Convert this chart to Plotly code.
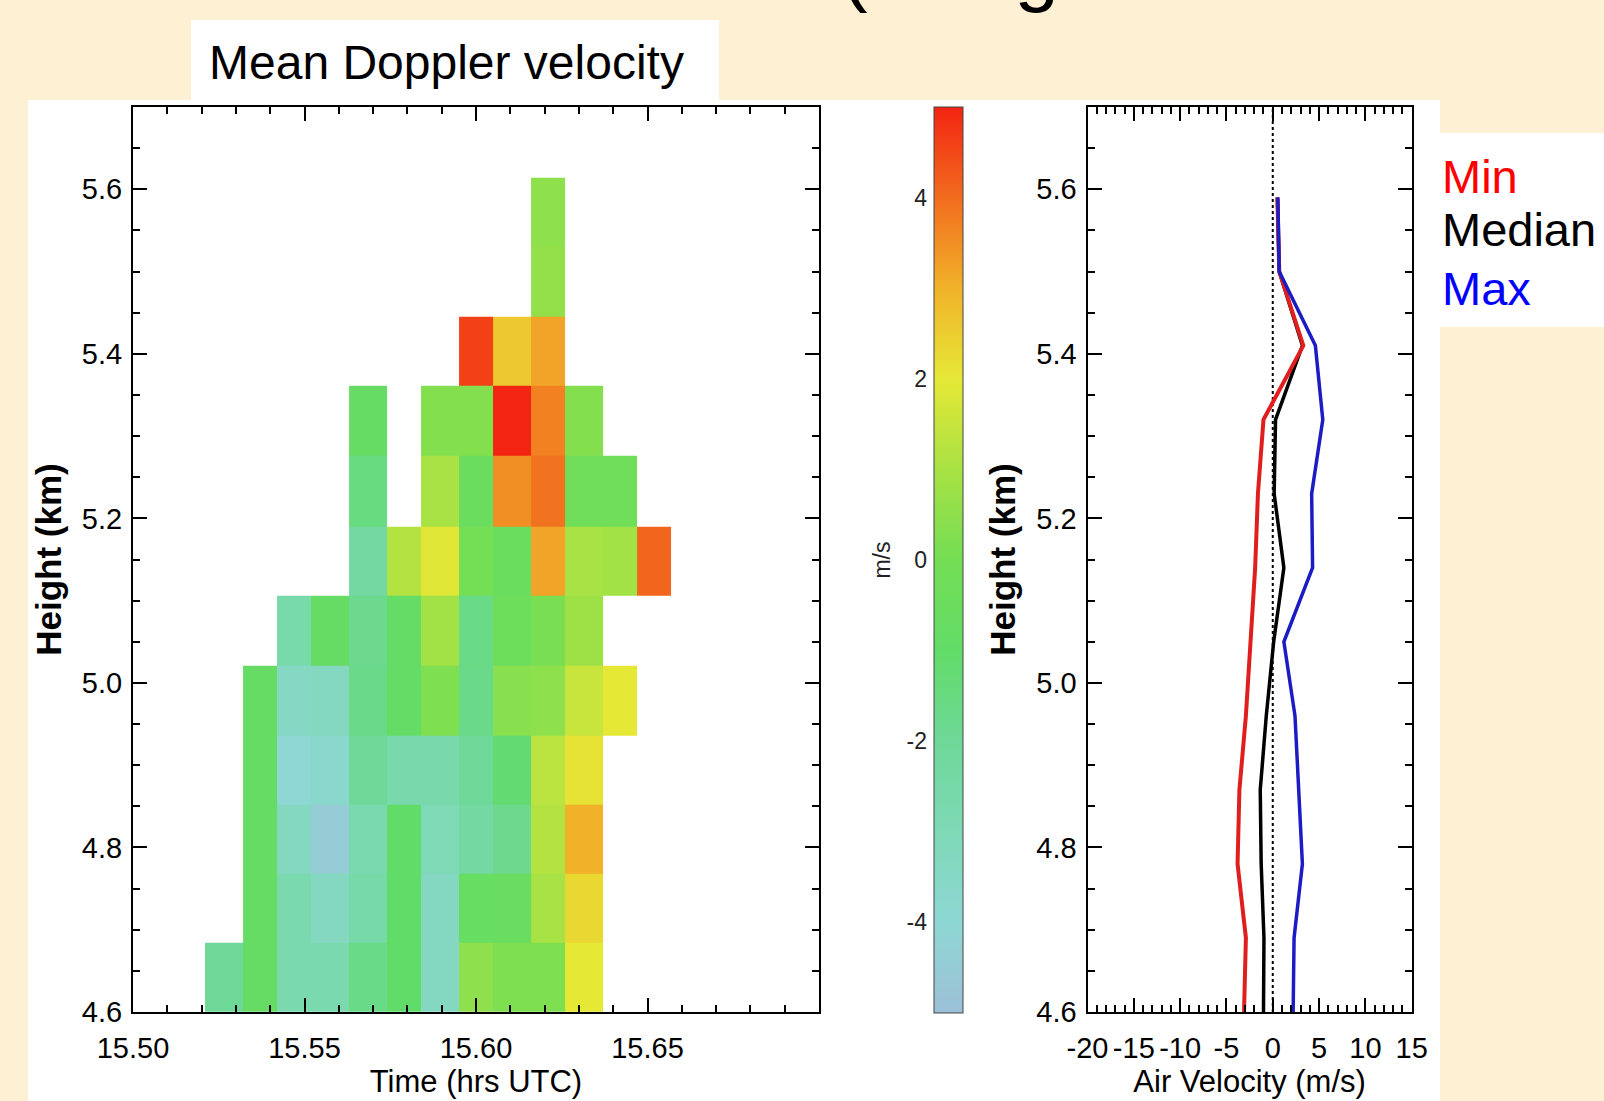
import plotly.graph_objects as go

# ---------------- data ----------------
# heatmap bin edges (hours UTC / km)
time_edges = [15.521, 15.532, 15.542, 15.552, 15.563, 15.574, 15.584, 15.595,
              15.605, 15.616, 15.626, 15.637, 15.647, 15.657]
height_edges = [4.600, 4.684, 4.768, 4.852, 4.936, 5.021, 5.106, 5.190,
                5.276, 5.361, 5.445, 5.530, 5.614]

N = None
# mean Doppler velocity (m/s), rows bottom -> top, columns left -> right
doppler = [
    [-2.0, -0.8, -2.8, -2.8, -1.6, -1.0, -3.4, 0.5, 0.2, 0.2, 2.0, N, N],
    [N, -0.8, -2.8, -3.4, -2.5, -1.0, -3.4, -0.7, -0.6, 1.0, 2.3, N, N],
    [N, -0.8, -3.3, -4.5, -2.8, -1.0, -3.0, -2.3, -1.8, 1.2, 3.0, N, N],
    [N, -0.8, -4.0, -3.7, -2.0, -2.7, -2.7, -2.0, -1.2, 1.3, 2.1, N, N],
    [N, -0.8, -3.5, -3.3, -1.7, -0.9, 0.2, -1.7, 0.4, 0.5, 1.5, 2.0, N],
    [N, N, -2.6, -0.8, -1.8, -0.9, 0.9, -1.6, -0.4, 0.1, 0.8, N, N],
    [N, N, N, N, -2.3, 1.2, 1.9, 0.0, -0.5, 3.2, 1.0, 0.9, 4.1],
    [N, N, N, N, -1.5, N, 1.0, -0.5, 3.5, 3.9, -0.2, -0.2, N],
    [N, N, N, N, -0.8, N, 0.3, 0.3, 5.0, 3.7, 0.3, N, N],
    [N, N, N, N, N, N, N, 4.6, 2.6, 3.2, N, N, N],
    [N, N, N, N, N, N, N, N, N, 0.6, N, N, N],
    [N, N, N, N, N, N, N, N, N, 0.5, N, N, N],
]

# air velocity profiles
profile_height = [4.60, 4.69, 4.78, 4.87, 4.96, 5.05, 5.14, 5.23, 5.32, 5.41, 5.50, 5.59]
vel_min = [-3.1, -2.9, -3.8, -3.6, -2.9, -2.4, -1.9, -1.6, -1.0, 3.3, 0.7, 0.5]
vel_median = [-1.0, -0.95, -1.25, -1.35, -0.7, 0.1, 1.2, 0.15, 0.3, 3.2, 0.7, 0.5]
vel_max = [2.2, 2.3, 3.2, 2.8, 2.4, 1.2, 4.3, 4.2, 5.4, 4.6, 0.7, 0.55]

time_ticks = [15.50, 15.55, 15.60, 15.65]
time_labels = ["15.50", "15.55", "15.60", "15.65"]
height_ticks = [4.6, 4.8, 5.0, 5.2, 5.4, 5.6]
height_labels = ["4.6", "4.8", "5.0", "5.2", "5.4", "5.6"]
vel_ticks = [-20, -15, -10, -5, 0, 5, 10, 15]
vel_labels = ["-20", "-15", "-10", "-5", "0", "5", "10", "15"]
cbar_ticks = [-4, -2, 0, 2, 4]
cbar_labels = ["-4", "-2", "0", "2", "4"]

# ---------------- style ----------------
W, H = 1604, 1101
CREAM = "#FEF1D3"
SANS = "Liberation Sans, Arial, Helvetica, sans-serif"

colorscale = [
    [0.0, "#9cc0d6"], [0.1, "#8ed7d4"], [0.2, "#7ed9b6"], [0.3, "#6ed898"],
    [0.4, "#62dc68"], [0.5, "#74de54"], [0.6, "#a8e244"], [0.7, "#e6e836"],
    [0.8, "#f1b22a"], [0.9, "#f26c1e"], [1.0, "#f32412"],
]

def px(x):
    return x / W

def py(y):
    return 1 - y / H

plot_y = [py(1012), py(107)]

fig = go.Figure()

fig.add_trace(go.Heatmap(
    x=time_edges, y=height_edges, z=doppler,
    zmin=-5, zmax=5, colorscale=colorscale, zsmooth=False,
    xaxis="x", yaxis="y", hoverongaps=False,
    colorbar=dict(
        x=px(934), xanchor="left", xpad=0, ypad=0,
        y=py(1013), yanchor="bottom", len=(1013 - 107) / H, lenmode="fraction",
        thickness=29, thicknessmode="pixels",
        outlinewidth=1, outlinecolor="#444",
        ticks="", showticklabels=False,
    ),
))

fig.add_trace(go.Scatter(x=vel_median, y=profile_height, mode="lines",
                         line=dict(color="#000000", width=3.5),
                         xaxis="x2", yaxis="y2", showlegend=False))
fig.add_trace(go.Scatter(x=vel_min, y=profile_height, mode="lines",
                         line=dict(color="#e01e1e", width=4),
                         xaxis="x2", yaxis="y2", showlegend=False))
fig.add_trace(go.Scatter(x=vel_max, y=profile_height, mode="lines",
                         line=dict(color="#1c1cc4", width=3.5),
                         xaxis="x2", yaxis="y2", showlegend=False))
fig.add_trace(go.Scatter(x=[], y=[], xaxis="x3", yaxis="y3", showlegend=False))

axis_common = dict(
    showline=True, linecolor="black", linewidth=2, mirror="allticks",
    ticks="inside", tickcolor="black", tickwidth=2, ticklen=14,
    showgrid=False, zeroline=False, automargin=False, tickangle=0,
    tickfont=dict(family=SANS, size=29, color="black"),
)
title_font = dict(family=SANS, size=31, color="black")
ytitle_font = dict(family=SANS, size=35, color="black")

fig.update_layout(
    width=W, height=H,
    margin=dict(l=0, r=0, t=0, b=0),
    paper_bgcolor=CREAM, plot_bgcolor="#f9f9f9",
    showlegend=False,
    xaxis=dict(axis_common, domain=[px(133), px(819)], range=[15.50, 15.70],
               anchor="y", tickvals=time_ticks, ticktext=time_labels,
               ticklabelstandoff=9,
               minor=dict(dtick=0.01, tick0=15.50, ticks="inside", ticklen=7,
                          tickwidth=1.5, tickcolor="black"),
               title=dict(text="Time (hrs UTC)", standoff=4, font=title_font)),
    yaxis=dict(axis_common, domain=plot_y, range=[4.6, 5.70], anchor="x",
               tickvals=height_ticks, ticktext=height_labels, ticklabelstandoff=3,
               minor=dict(dtick=0.05, tick0=4.6, ticks="inside", ticklen=7,
                          tickwidth=1.5, tickcolor="black"),
               title=dict(text="<b>Height (km)</b>", standoff=10, font=ytitle_font)),
    xaxis2=dict(axis_common, domain=[px(1087.5), px(1411.7)], range=[-20, 15],
                anchor="y2", tickvals=vel_ticks, ticktext=vel_labels,
                ticklabelstandoff=9,
                minor=dict(dtick=1, tick0=0, ticks="inside", ticklen=7,
                           tickwidth=1.5, tickcolor="black"),
                title=dict(text="Air Velocity (m/s)", standoff=4, font=title_font)),
    yaxis2=dict(axis_common, domain=plot_y, range=[4.6, 5.70], anchor="x2",
                tickvals=height_ticks, ticktext=height_labels, ticklabelstandoff=3,
                minor=dict(dtick=0.05, tick0=4.6, ticks="inside", ticklen=7,
                           tickwidth=1.5, tickcolor="black"),
                title=dict(text="<b>Height (km)</b>", standoff=10, font=ytitle_font)),
    xaxis3=dict(domain=[px(934), px(963)], range=[0, 1], anchor="y3",
                visible=False, fixedrange=True),
    yaxis3=dict(domain=[py(1013), py(107)], range=[-5, 5], anchor="x3",
                side="left", showline=False, mirror="allticks",
                ticks="inside", ticklen=6, tickwidth=1.5, tickcolor="#333",
                tickvals=cbar_ticks, ticktext=cbar_labels,
                showgrid=False, zeroline=False,
                automargin=False, ticklabelstandoff=6,
                minor=dict(dtick=1, tick0=0, ticks="inside", ticklen=4,
                           tickwidth=1, tickcolor="#333"),
                tickfont=dict(family=SANS, size=23, color="#222"),
                title=dict(text="m/s", standoff=9,
                           font=dict(family=SANS, size=23, color="#222"))),
)

# panels behind the figure
fig.add_shape(type="rect", xref="paper", yref="paper",
              x0=px(28), x1=px(1440), y0=0, y1=py(100),
              fillcolor="white", line=dict(width=0), layer="below")
fig.add_shape(type="rect", xref="paper", yref="paper",
              x0=px(191), x1=px(719), y0=py(100), y1=py(20),
              fillcolor="white", line=dict(width=0), layer="below")
fig.add_shape(type="rect", xref="paper", yref="paper",
              x0=px(1440), x1=1, y0=py(327), y1=py(133),
              fillcolor="white", line=dict(width=0), layer="below")

# dotted zero line in the profile panel
fig.add_shape(type="line", xref="x2", yref="y2 domain", x0=0, x1=0, y0=0, y1=1,
              line=dict(color="black", width=2, dash="dot"), layer="below")

# texts
fig.add_annotation(text="Mean Doppler velocity", xref="paper", yref="paper",
                   x=px(207), y=py(63), xanchor="left", yanchor="middle",
                   showarrow=False, font=dict(family=SANS, size=48, color="black"))
fig.add_annotation(text="Min", xref="paper", yref="paper",
                   x=px(1440), y=py(176), xanchor="left", yanchor="middle",
                   showarrow=False, font=dict(family=SANS, size=47, color="#ff0000"))
fig.add_annotation(text="Median", xref="paper", yref="paper",
                   x=px(1440), y=py(230), xanchor="left", yanchor="middle",
                   showarrow=False, font=dict(family=SANS, size=47, color="#000000"))
fig.add_annotation(text="Max", xref="paper", yref="paper",
                   x=px(1440), y=py(288), xanchor="left", yanchor="middle",
                   showarrow=False, font=dict(family=SANS, size=47, color="#0000ff"))
fig.add_annotation(text="(using", xref="paper", yref="paper",
                   x=px(839), y=py(-32), xanchor="left", yanchor="middle",
                   showarrow=False, font=dict(family=SANS, size=80, color="black"))

fig.write_html(
    "out.html",
    config={"displayModeBar": False},
    post_script="document.body.style.margin='0';document.body.style.overflow='hidden';",
)
